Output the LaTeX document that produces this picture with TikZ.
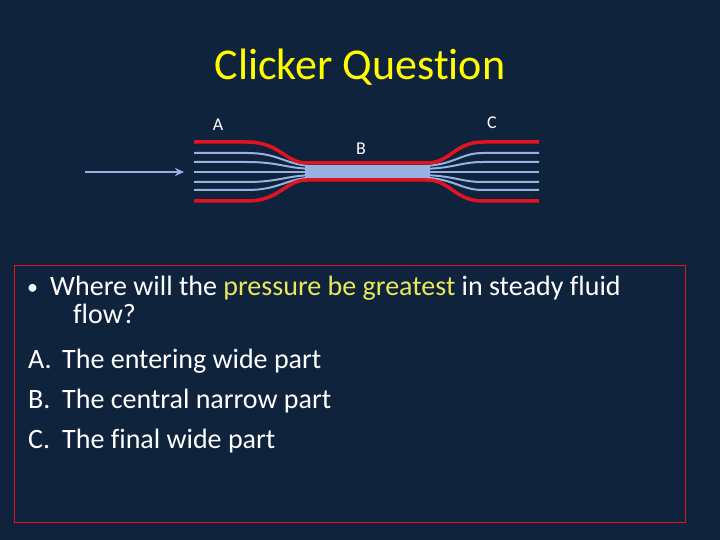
\documentclass[tikz,border=0pt]{standalone}
\usepackage{fontspec}
\usetikzlibrary{arrows.meta}
\setmainfont{Carlito}[RawFeature=-liga]
\definecolor{bg}{HTML}{10233D}
\definecolor{ttl}{HTML}{FFFF00}
\definecolor{hl}{HTML}{E8E85A}
\definecolor{tube}{HTML}{E0131E}
\definecolor{flow}{HTML}{95B3E0}
\begin{document}
\begin{tikzpicture}[x=1pt,y=-1pt,
  wall/.style={draw=tube,line width=3.5pt},
  stream/.style={draw=flow,line width=2pt},
  lbl/.style={text=white,font=\fontsize{18}{19}\selectfont,inner sep=0pt},
  body/.style={text=white,font=\fontsize{28}{28}\selectfont,anchor=base west,inner sep=0pt}]
\fill[bg] (0,0) rectangle (720,540);
\useasboundingbox (0,0) rectangle (720,540);
\node[text=ttl,font=\fontsize{44}{50}\selectfont] (title) at (360,67) {Clicker Question};
% streamlines
\foreach \y/\n in {153/1,162/2,182/4,190/5}{
  \draw[stream] (194,\y) -- (247,\y) .. controls (280,\y) and (285,{172+(\y-172)*0.35}) .. (315,{172+(\y-172)*0.3}) -- (420,{172+(\y-172)*0.3}) .. controls (455,{172+(\y-172)*0.35}) and (460,\y) .. (483,\y) -- (539,\y);
}
\fill[flow] (305,165) rectangle (430,179);
\draw[stream] (194,172) -- (539,172);
% walls
\draw[wall] (194,142) -- (247,142) .. controls (280,142) and (285,163) .. (307,163) -- (427,163) .. controls (450,163) and (455,142) .. (483,142) -- (539,142);
\draw[wall] (194,201) -- (247,201) .. controls (280,201) and (285,180) .. (307,180) -- (427,180) .. controls (450,180) and (455,201) .. (483,201) -- (539,201);
\node[lbl] (A) at (218,125) {A};
\node[lbl] (B) at (361,149) {B};
\node[lbl] (C) at (492,123) {C};
\coordinate (s) at (85,172);
\coordinate (e) at (184,172);
\draw[flow,line width=2pt,-{Stealth[length=9pt,width=8pt]}] (s) -- (e);
\draw[tube,line width=1pt] (14,265) rectangle (685,522);
\node[body,font=\fontsize{22}{22}\selectfont] (b0) at (27,294) {\textbullet};
\node[body] (l1) at (50,295) {Where will the {\color{hl}pressure be greatest} in steady fluid};
\node[body] (l2) at (73,323) {flow?};
\node[body] (a) at (28,368) {A.};
\node[body] (la) at (62,368) {The entering wide part};
\node[body] (b) at (28,408) {B.};
\node[body] (lb) at (62,408) {The central narrow part};
\node[body] (c) at (28,448) {C.};
\node[body] (lc) at (62,448) {The final wide part};
\end{tikzpicture}
\end{document}
